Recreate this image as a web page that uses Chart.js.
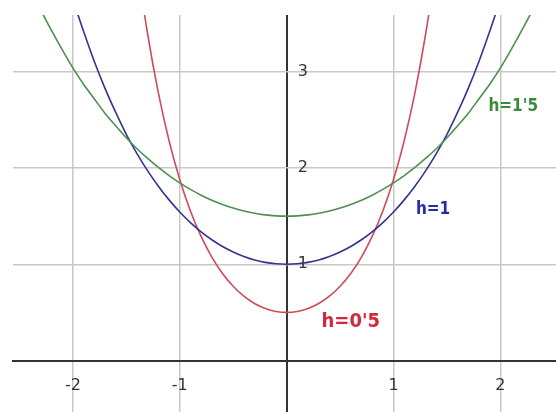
<!DOCTYPE html>
<html>
<head>
<meta charset="utf-8">
<script src="https://cdn.jsdelivr.net/npm/chart.js@4/dist/chart.umd.min.js"></script>
<style>
  html, body { margin: 0; padding: 0; background: #ffffff; }
  #c { display: block; }
</style>
</head>
<body>
<canvas id="c" width="556" height="412"></canvas>
<script>
// x positions where the curves were read
const xValues = [-2.6,-2.5,-2.4,-2.3,-2.2,-2.1,-2.0,-1.9,-1.8,-1.7,-1.6,-1.5,-1.4,-1.3,-1.2,-1.1,-1.0,-0.9,-0.8,-0.7,-0.6,-0.5,-0.4,-0.3,-0.2,-0.1,
  0,
  0.1,0.2,0.3,0.4,0.5,0.6,0.7,0.8,0.9,1.0,1.1,1.2,1.3,1.4,1.5,1.6,1.7,1.8,1.9,2.0,2.1,2.2,2.3,2.4,2.5,2.6];

// h = 1'5 (green)
const greenY = [4.37,4.11,3.87,3.64,3.43,3.23,3.04,2.87,2.72,2.57,2.44,2.315,2.20,2.10,2.006,1.922,1.846,1.778,1.718,1.666,1.622,1.584,1.554,1.530,1.513,1.503,
  1.50,
  1.503,1.513,1.530,1.554,1.584,1.622,1.666,1.718,1.778,1.846,1.922,2.006,2.10,2.20,2.315,2.44,2.57,2.72,2.87,3.04,3.23,3.43,3.64,3.87,4.11,4.37];

// h = 1 (blue)
const blueY = [null,null,null,null,4.57,4.14,3.76,3.42,3.11,2.83,2.58,2.35,2.15,1.97,1.811,1.669,1.543,1.433,1.337,1.255,1.185,1.128,1.081,1.045,1.020,1.005,
  1.00,
  1.005,1.020,1.045,1.081,1.128,1.185,1.255,1.337,1.433,1.543,1.669,1.811,1.97,2.15,2.35,2.58,2.83,3.11,3.42,3.76,4.14,4.57,null,null,null,null];

// h = 0'5 (red)
const redY = [null,null,null,null,null,null,null,null,null,null,null,5.03,4.13,3.39,2.78,2.284,1.881,1.554,1.289,1.075,0.905,0.772,0.669,0.593,0.541,0.510,
  0.50,
  0.510,0.541,0.593,0.669,0.772,0.905,1.075,1.289,1.554,1.881,2.284,2.78,3.39,4.13,5.03,null,null,null,null,null,null,null,null,null,null,null];

const seriesNames = ["h=1'5", "h=1", "h=0'5"];
const xTicks = [-2, -1, 1, 2];
const yTicks = [1, 2, 3];

function toPoints(ys) {
  return xValues.map((x, i) => ({ x: x, y: ys[i] }));
}

const colors = ['#4f8f4f', '#34348f', '#cc4c5c'];
const labelColors = ['#3a8a3a', '#2a2aa6', '#d02a3c'];
const labelPos = [{ x: 2.12, y: 2.64 }, { x: 1.37, y: 1.57 }, { x: 0.60, y: 0.40 }];
const labelSizes = [17, 17, 20];

const curveLabelPlugin = {
  id: 'curveLabels',
  afterDatasetsDraw(chart) {
    const { ctx, scales } = chart;
    ctx.save();
    ctx.textAlign = 'center';
    ctx.textBaseline = 'middle';
    seriesNames.forEach((name, i) => {
      ctx.font = "bold " + labelSizes[i] + "px 'Liberation Sans Narrow', 'DejaVu Sans Condensed', sans-serif";
      ctx.fillStyle = labelColors[i];
      ctx.fillText(name, scales.x.getPixelForValue(labelPos[i].x), scales.y.getPixelForValue(labelPos[i].y));
    });
    ctx.restore();
  }
};

new Chart(document.getElementById('c'), {
  type: 'scatter',
  data: {
    datasets: [greenY, blueY, redY].map((ys, i) => ({
      label: seriesNames[i],
      data: toPoints(ys),
      showLine: true,
      borderColor: colors[i],
      backgroundColor: colors[i],
      borderWidth: 1.6,
      pointRadius: 0,
      cubicInterpolationMode: 'monotone',
      spanGaps: false
    }))
  },
  options: {
    responsive: false,
    animation: false,
    layout: { padding: { left: 13, top: 15, right: 0, bottom: 0 } },
    plugins: { legend: { display: false }, tooltip: { enabled: false } },
    scales: {
      x: {
        type: 'linear',
        min: -2.56,
        max: 2.52,
        position: { y: 0 },
        border: { display: true, color: '#333333', width: 2 },
        grid: {
          drawTicks: false,
          color: (c) => c.tick && c.tick.value === 0 ? '#333333' : '#c8c8c8',
          lineWidth: (c) => c.tick && c.tick.value === 0 ? 2 : 1.5
        },
        afterBuildTicks: (s) => { s.ticks = [-2, -1, 0, 1, 2].map(v => ({ value: v })); },
        afterFit: (s) => { s.paddingLeft = 0; s.paddingRight = 0; s.paddingTop = 0; s.paddingBottom = 0; },
        ticks: {
          includeBounds: false,
          padding: 16,
          color: '#333333',
          font: { family: 'DejaVu Sans', size: 16 },
          callback: (v) => xTicks.includes(v) ? String(v) : ''
        }
      },
      y: {
        type: 'linear',
        min: -0.535,
        max: 3.59,
        position: { x: 0.2 },
        border: { display: false },
        grid: {
          drawTicks: false,
          color: (c) => c.tick && c.tick.value === 0 ? '#333333' : '#c8c8c8',
          lineWidth: (c) => c.tick && c.tick.value === 0 ? 2 : 1.5
        },
        afterBuildTicks: (s) => { s.ticks = [0, 1, 2, 3].map(v => ({ value: v })); },
        afterFit: (s) => { s.paddingLeft = 0; s.paddingRight = 0; s.paddingTop = 0; s.paddingBottom = 0; },
        ticks: {
          includeBounds: false,
          padding: 0,
          color: '#333333',
          font: { family: 'DejaVu Sans', size: 16 },
          callback: (v) => yTicks.includes(v) ? String(v) : ''
        }
      }
    }
  },
  plugins: [curveLabelPlugin]
});
</script>
</body>
</html>
